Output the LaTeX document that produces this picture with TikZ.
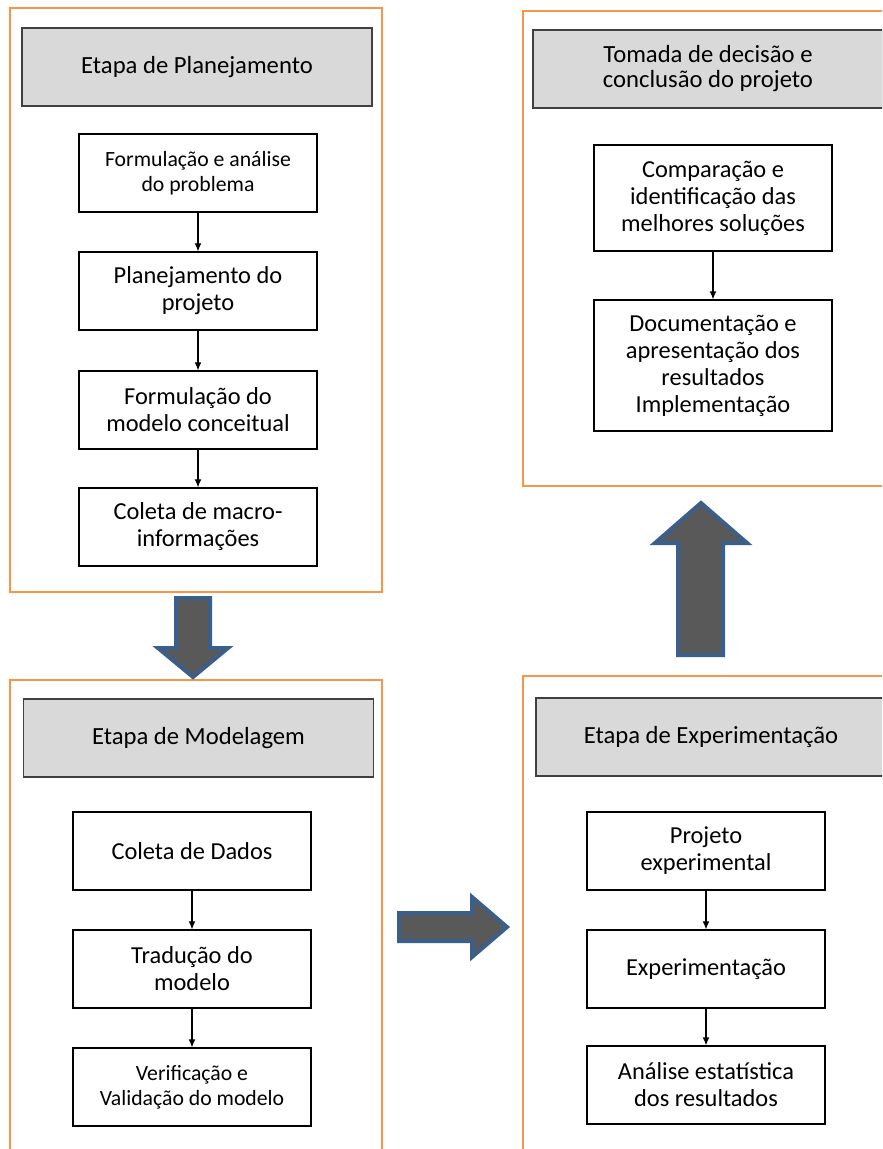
\documentclass[tikz,border=0pt]{standalone}
\usepackage{fontspec}
\setmainfont{Carlito}
\usetikzlibrary{arrows.meta}

\definecolor{frameorange}{HTML}{F79646}
\definecolor{headgray}{HTML}{D9D9D9}
\definecolor{arrowfill}{HTML}{595959}
\definecolor{arrowline}{HTML}{3A5F8B}

\begin{document}
\begin{tikzpicture}[x=0.75pt, y=-0.75pt,
    stage/.style={draw=frameorange, line width=1.1pt},
    head/.style={draw=black!75, fill=headgray, line width=0.9pt, minimum width=262.5pt, minimum height=58.5pt, align=center, font=\fontsize{18.5}{18.75}\selectfont},
    task/.style={draw, line width=0.9pt, minimum width=178.5pt, minimum height=58.5pt, align=center, font=\fontsize{18.3}{20.25}\selectfont},
    smalltext/.style={font=\fontsize{16.3}{18.5}\selectfont},
    flow/.style={-{Latex[length=6pt,width=5pt]}, line width=0.8pt},
    block/.style={fill=arrowfill, draw=arrowline, line width=3pt, line join=miter}]
    \useasboundingbox (0,0) rectangle (882,1149);
    \clip (0,0) rectangle (882,1149);

    % frames of the four stages
    \draw[stage] (10,8) rectangle (382,592);
    \draw[stage] (10,680) rectangle (382,1170);
    \draw[stage] (523,676) rectangle (900,1170);
    \draw[stage] (523,11) rectangle (900,486);

    % planejamento
    \node[head] (hplan) at (197,67) {Etapa de Planejamento};
    \node[task, smalltext] (formul) at (198,173) {Formulação e análise\\do problema};
    \node[task] (planej) at (198,291) {Planejamento do\\projeto};
    \node[task] (concei) at (198,410) {Formulação do\\modelo conceitual};
    \node[task] (macro) at (198,527) {Coleta de macro-\\informações};
    \draw[flow] (formul) -- (planej);
    \draw[flow] (planej) -- (concei);
    \draw[flow] (concei) -- (macro);

    % modelagem
    \node[head] (hmodel) at (198.5,738) {Etapa de Modelagem};
    \node[task] (dados) at (192,851) {Coleta de Dados};
    \node[task] (traduc) at (192,969) {Tradução do\\modelo};
    \node[task, smalltext] (verif) at (192,1087) {Verificação e\\Validação do modelo};
    \draw[flow] (dados) -- (traduc);
    \draw[flow] (traduc) -- (verif);

    % experimentacao
    \node[head] (hexp) at (711,737) {Etapa de Experimentação};
    \node[task] (projexp) at (706,851) {Projeto\\experimental};
    \node[task] (experim) at (706,969) {Experimentação};
    \node[task] (analise) at (706,1085) {Análise estatística\\dos resultados};
    \draw[flow] (projexp) -- (experim);
    \draw[flow] (experim) -- (analise);

    % decisao
    \node[head] (hdecis) at (708,69) {Tomada de decisão e\\conclusão do projeto};
    \node[task, minimum height=79.5pt] (compar) at (713,198) {Comparação e\\identificação das\\melhores soluções};
    \node[task, minimum height=98.25pt] (docum) at (713,365.5) {Documentação e\\apresentação dos\\resultados\\Implementação};
    \draw[flow] (compar) -- (docum);

    % block arrows between the stages
    \draw[block] (176,598) -- (210,598) -- (210,648) -- (228,648) -- (193,677) -- (158,648) -- (176,648) -- cycle;
    \draw[block] (399,913) -- (472,913) -- (472,897) -- (507,927) -- (472,957) -- (472,941) -- (399,941) -- cycle;
    \draw[block] (678,655) -- (678,543) -- (655,543) -- (701,503) -- (747,543) -- (723,543) -- (723,655) -- cycle;
\end{tikzpicture}
\end{document}
